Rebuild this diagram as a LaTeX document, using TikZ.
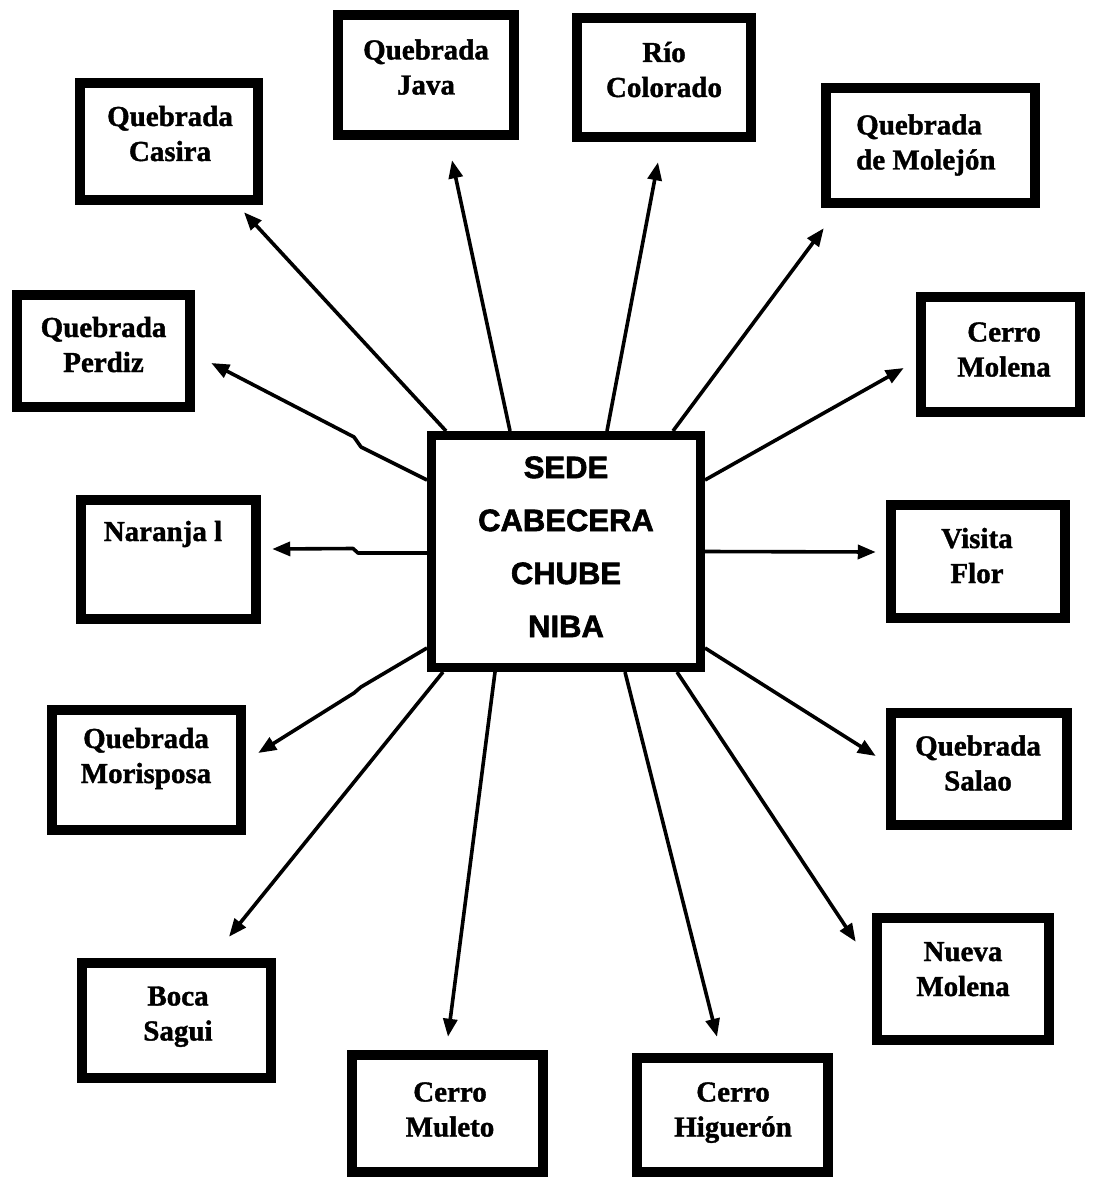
\documentclass[tikz,border=0pt]{standalone}
\usepackage{fontspec}
\setmainfont{Liberation Serif}
\setsansfont{Liberation Sans}
\usetikzlibrary{arrows.meta}
\begin{document}
\begin{tikzpicture}[x=1pt,y=-1pt,
  box/.style={draw=black, line width=10.5pt, inner sep=0pt, fill=white},
  hubbox/.style={draw=black, line width=9pt, inner sep=0pt, fill=white},
  lbl/.style={align=center, inner sep=0pt, font=\fontsize{29}{35}\selectfont\bfseries\addfontfeature{FakeBold=1.3}},
  hublbl/.style={align=center, inner sep=0pt, font=\fontsize{31}{53}\selectfont\sffamily\bfseries\addfontfeature{FakeBold=2}},
  arr/.style={line width=3.6pt, -{Triangle[length=18pt,width=14pt]}, line join=round},
]
\useasboundingbox (0,0) rectangle (1094,1177);
\fill[white] (0,0) rectangle (1094,1177);

% boxes
\node[hubbox, minimum width=269pt, minimum height=232pt] (hub) at (566,551.5) {};
\node[box, minimum width=178pt, minimum height=117pt] (casira) at (169,141.5) {};
\node[box, minimum width=176pt, minimum height=120pt] (java) at (426,75) {};
\node[box, minimum width=174pt, minimum height=119pt] (rio) at (664,77.5) {};
\node[box, minimum width=209pt, minimum height=115pt] (molejon) at (930.5,145.5) {};
\node[box, minimum width=173pt, minimum height=112pt] (perdiz) at (103.5,351) {};
\node[box, minimum width=159pt, minimum height=115pt] (cmolena) at (1000.5,354.5) {};
\node[box, minimum width=175pt, minimum height=119pt] (naranja) at (168.5,559.5) {};
\node[box, minimum width=174pt, minimum height=113pt] (visita) at (978,561.5) {};
\node[box, minimum width=189pt, minimum height=120pt] (morisposa) at (146.5,770) {};
\node[box, minimum width=176pt, minimum height=112pt] (salao) at (979,769) {};
\node[box, minimum width=189pt, minimum height=115pt] (boca) at (176.5,1020.5) {};
\node[box, minimum width=172pt, minimum height=122pt] (nmolena) at (963,979) {};
\node[box, minimum width=191pt, minimum height=117pt] (muleto) at (447.5,1113.5) {};
\node[box, minimum width=191pt, minimum height=114pt] (higueron) at (732.5,1115) {};

% labels
\node[hublbl] (hubT) at (566,547) {\strut SEDE\\\strut CABECERA\\\strut CHUBE\\\strut NIBA};
\node[lbl] (casiraT) at (170,136.5) {\strut Quebrada\\\strut Casira};
\node[lbl] (javaT) at (426,70) {\strut Quebrada\\\strut Java};
\node[lbl] (rioT) at (664,72.5) {\strut Río\\\strut Colorado};
\node[lbl, align=left, anchor=west] (molejonT) at (856,145) {\strut Quebrada\\\strut de Molejón};
\node[lbl] (perdizT) at (103.5,347.5) {\strut Quebrada\\\strut Perdiz};
\node[lbl] (cmolenaT) at (1004,352) {\strut Cerro\\\strut Molena};
\node[lbl] (naranjaT) at (163,534) {\strut Naranja l};
\node[lbl] (visitaT) at (977,558.5) {\strut Visita\\\strut Flor};
\node[lbl] (morisposaT) at (146,758.5) {\strut Quebrada\\\strut Morisposa};
\node[lbl] (salaoT) at (978,766) {\strut Quebrada\\\strut Salao};
\node[lbl] (bocaT) at (178,1016) {\strut Boca\\\strut Sagui};
\node[lbl] (nmolenaT) at (963,971.5) {\strut Nueva\\\strut Molena};
\node[lbl] (muletoT) at (450,1112) {\strut Cerro\\\strut Muleto};
\node[lbl] (higueronT) at (733,1112) {\strut Cerro\\\strut Higuerón};

% connectors
\draw[arr] ([shift={(-120,0)}]hub.north) -- ([shift={(75,7)}]casira.south);
\draw[arr] ([shift={(-56,0)}]hub.north) -- ([shift={(26,20)}]java.south);
\draw[arr] ([shift={(41,0)}]hub.north) -- ([shift={(-6,20)}]rio.south);
\draw[arr] ([shift={(107,0)}]hub.north) -- ([shift={(3,20)}]molejon.south west);
\draw[arr] ([shift={(0,-71.5)}]hub.east) -- ([shift={(-12,13.5)}]cmolena.west);
\draw[arr] ([shift={(0,0)}]hub.east) -- ([shift={(-10,-9.5)}]visita.west);
\draw[arr] ([shift={(0,96.5)}]hub.east) -- ([shift={(-10,-13)}]salao.west);
\draw[arr] ([shift={(0,-71.5)}]hub.west) -- (361,447) -- (354,437) -- ([shift={(16,12)}]perdiz.east);
\draw[arr] ([shift={(0,1.5)}]hub.west) -- (358,553) -- (353,548.5) -- ([shift={(11,-10.5)}]naranja.east);
\draw[arr] ([shift={(0,96.5)}]hub.west) -- (361,687) -- (354,693) -- ([shift={(12,-17)}]morisposa.east);
\draw[arr] ([shift={(-123,0)}]hub.south) -- ([shift={(52.5,-21)}]boca.north);
\draw[arr] ([shift={(-71,0)}]hub.south) -- ([shift={(0.5,-13)}]muleto.north);
\draw[arr] ([shift={(59,0)}]hub.south) -- ([shift={(-15.5,-16)}]higueron.north);
\draw[arr] ([shift={(111,0)}]hub.south) -- ([shift={(-16,29)}]nmolena.north west);
\end{tikzpicture}
\end{document}
